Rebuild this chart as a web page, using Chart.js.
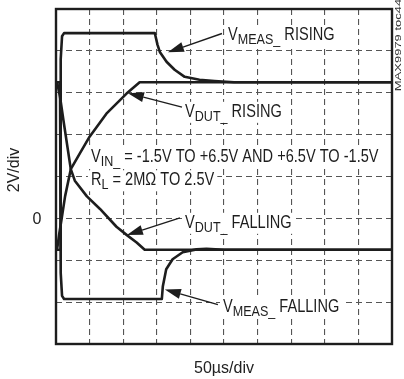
<!DOCTYPE html>
<html>
<head>
<meta charset="utf-8">
<script src="https://cdn.jsdelivr.net/npm/chart.js@4.4.1/dist/chart.umd.min.js"></script>
<style>
  html, body { margin: 0; padding: 0; background: #fff; }
  #scope { display: block; }
</style>
</head>
<body>
<canvas id="scope" width="404" height="379"></canvas>
<script>
// Time in divisions (50us/div), amplitude in volts (2V/div)
const measRiseT = [0, 0.12, 0.14, 0.18, 0.24, 2.94, 3.02, 3.09, 3.29, 3.53, 3.83, 4.27, 4.72, 5.3, 10];
const measRiseV = [-1.5, -1.5, 7.6, 8.7, 8.85, 8.85, 8.3, 7.95, 7.48, 7.1, 6.76, 6.62, 6.56, 6.5, 6.5];

const dutRiseT = [0, 0.04, 0.1, 0.17, 0.27, 0.44, 0.71, 1.0, 1.5, 2.1, 2.49, 10];
const dutRiseV = [-1.5, -1.4, -0.7, 0.0, 1.05, 2.35, 3.1, 3.9, 5.0, 5.96, 6.5, 6.5];

const dutFallT = [0, 0.04, 0.12, 0.22, 0.44, 0.56, 0.92, 1.31, 1.8, 2.11, 2.4, 2.64, 10];
const dutFallV = [6.5, 6.45, 5.8, 4.7, 2.35, 1.8, 1.05, 0.45, -0.4, -0.8, -1.15, -1.5, -1.5];

const measFallT = [0, 0.12, 0.14, 0.18, 0.24, 3.15, 3.18, 3.28, 3.47, 3.77, 4.18, 4.48, 5.0, 10];
const measFallV = [6.5, 6.5, -2.6, -3.7, -3.85, -3.85, -3.24, -2.43, -1.95, -1.62, -1.48, -1.45, -1.5, -1.5];

// Axis ranges and division steps
const xMin = 0, xMax = 10, xStep = 1;
const yMin = -6, yMax = 10, yStep = 2;

// Build {x, y} points for a trace
function trace(t, v) {
    return t.map((x, i) => ({ x: x, y: v[i] }));
}

// Text pieces: [text, size, baseline shift]
const BIG = 18, SUB = 15.5;
const labels = [
    { x: 5.12, y: 8.50, parts: [['V', BIG, 0], ['MEAS_', SUB, 4], [' RISING', BIG, 0]] },
    { x: 3.84, y: 4.85, parts: [['V', BIG, 0], ['DUT_', SUB, 4], [' RISING', BIG, 0]] },
    { x: 1.04, y: 2.68, parts: [['V', BIG, 0], ['IN_', SUB, 4], [' = -1.5V TO +6.5V AND +6.5V TO -1.5V', BIG, 0]] },
    { x: 1.04, y: 1.58, parts: [['R', BIG, 0], ['L', SUB, 4], [' = 2MΩ TO 2.5V', BIG, 0]] },
    { x: 3.84, y: -0.45, parts: [['V', BIG, 0], ['DUT_', SUB, 4], [' FALLING', BIG, 0]] },
    { x: 4.97, y: -4.45, parts: [['V', BIG, 0], ['MEAS_', SUB, 4], [' FALLING', BIG, 0]] }
];

// Pointer arrows: tail -> tip, in data units
const arrows = [
    [4.94, 8.83, 3.33, 7.93],
    [3.75, 5.31, 2.14, 5.98],
    [3.69, 0.02, 2.11, -0.79],
    [4.82, -4.12, 3.24, -3.40]
];

const INK = '#1d1d1d';
const TEXT_FONT = '"Liberation Sans", Arial, sans-serif';
const SQUEEZE = 0.81;

function richWidth(ctx, parts) {
    let w = 0;
    parts.forEach(([txt, size]) => {
        ctx.font = size + 'px ' + TEXT_FONT;
        w += ctx.measureText(txt).width;
    });
    return w * SQUEEZE;
}

function drawRich(ctx, x, y, parts) {
    ctx.save();
    ctx.translate(x, y);
    ctx.scale(SQUEEZE, 1);
    ctx.textBaseline = 'alphabetic';
    ctx.textAlign = 'left';
    let cx = 0;
    parts.forEach(([txt, size, dy]) => {
        ctx.font = size + 'px ' + TEXT_FONT;
        ctx.fillText(txt, cx, dy);
        cx += ctx.measureText(txt).width;
    });
    ctx.restore();
}

function drawArrow(ctx, x1, y1, x2, y2) {
    const ang = Math.atan2(y2 - y1, x2 - x1);
    const headLen = 16, headW = 5;
    const bx = x2 - headLen * Math.cos(ang);
    const by = y2 - headLen * Math.sin(ang);
    ctx.beginPath();
    ctx.moveTo(x1, y1);
    ctx.lineTo(bx, by);
    ctx.lineWidth = 1.4;
    ctx.strokeStyle = INK;
    ctx.stroke();
    ctx.beginPath();
    ctx.moveTo(x2, y2);
    ctx.lineTo(bx + headW * Math.sin(ang), by - headW * Math.cos(ang));
    ctx.lineTo(bx - headW * Math.sin(ang), by + headW * Math.cos(ang));
    ctx.closePath();
    ctx.fillStyle = INK;
    ctx.fill();
}

// Frame, annotations and axis captions
const scopeDecor = {
    id: 'scopeDecor',
    // white boxes under the annotation text hide the graticule
    beforeDatasetsDraw(chart) {
        const { ctx, scales: { x, y } } = chart;
        ctx.save();
        ctx.fillStyle = '#fff';
        labels.forEach(l => {
            const px = x.getPixelForValue(l.x);
            const py = y.getPixelForValue(l.y);
            const w = richWidth(ctx, l.parts);
            ctx.fillRect(px - 3, py - 15, w + 6, 21);
        });
        ctx.restore();
    },
    afterDraw(chart) {
        const { ctx, chartArea: a, scales: { x, y } } = chart;
        ctx.save();

        // Outer frame
        ctx.lineWidth = 2.4;
        ctx.strokeStyle = INK;
        ctx.strokeRect(a.left, a.top, a.right - a.left, a.bottom - a.top);

        ctx.fillStyle = INK;
        labels.forEach(l => drawRich(ctx, x.getPixelForValue(l.x), y.getPixelForValue(l.y), l.parts));
        arrows.forEach(([x1, y1, x2, y2]) => drawArrow(ctx,
            x.getPixelForValue(x1), y.getPixelForValue(y1),
            x.getPixelForValue(x2), y.getPixelForValue(y2)));

        // Axis captions
        ctx.fillStyle = '#222';
        ctx.font = '16px ' + TEXT_FONT;
        ctx.textAlign = 'center';
        ctx.textBaseline = 'middle';
        ctx.fillText('0', 37, y.getPixelForValue(0) + 1);
        ctx.fillText('50µs/div', (a.left + a.right) / 2, 369);

        ctx.save();
        ctx.translate(15, 170);
        ctx.rotate(-Math.PI / 2);
        ctx.fillText('2V/div', 0, 0);
        ctx.restore();

        ctx.save();
        ctx.translate(398, 45);
        ctx.rotate(-Math.PI / 2);
        ctx.scale(1, 0.7);
        ctx.font = '13px ' + TEXT_FONT;
        ctx.fillStyle = '#333';
        ctx.fillText('MAX9979 toc44', 0, 0);
        ctx.restore();

        ctx.restore();
    }
};

const lineStyle = {
    borderColor: INK,
    borderWidth: 2.6,
    pointRadius: 0,
    fill: false,
    tension: 0,
    borderJoinStyle: 'round',
    borderCapStyle: 'round'
};

new Chart(document.getElementById('scope'), {
    type: 'line',
    data: {
        datasets: [
            { label: 'VMEAS rising', data: trace(measRiseT, measRiseV), ...lineStyle },
            { label: 'VDUT rising', data: trace(dutRiseT, dutRiseV), ...lineStyle },
            { label: 'VDUT falling', data: trace(dutFallT, dutFallV), ...lineStyle },
            { label: 'VMEAS falling', data: trace(measFallT, measFallV), ...lineStyle }
        ]
    },
    options: {
        responsive: false,
        animation: false,
        layout: { padding: { left: 56, top: 9, right: 12, bottom: 35 } },
        plugins: {
            legend: { display: false },
            tooltip: { enabled: false }
        },
        scales: {
            x: {
                type: 'linear',
                min: xMin, max: xMax,
                ticks: { display: false, stepSize: xStep },
                grid: { color: '#555', lineWidth: 1.1, drawTicks: false },
                border: { display: false, dash: [6, 4] }
            },
            y: {
                type: 'linear',
                min: yMin, max: yMax,
                ticks: { display: false, stepSize: yStep },
                grid: { color: '#555', lineWidth: 1.1, drawTicks: false },
                border: { display: false, dash: [6, 4] }
            }
        }
    },
    plugins: [scopeDecor]
});
</script>
</body>
</html>
